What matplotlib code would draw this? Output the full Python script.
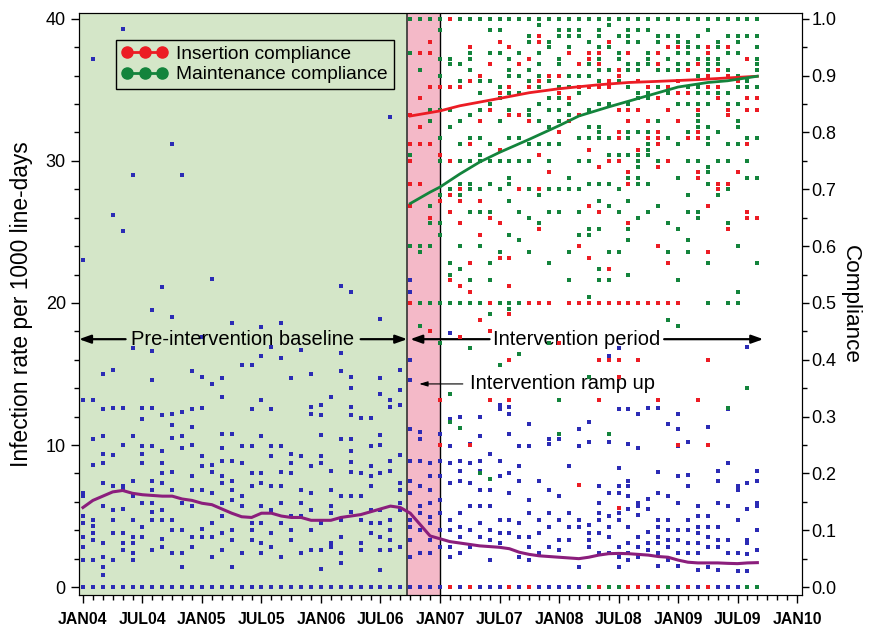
import matplotlib
matplotlib.use("Agg")
import matplotlib.pyplot as plt
from matplotlib.lines import Line2D
import numpy as np

plt.rcParams['font.family'] = ['Liberation Sans', 'DejaVu Sans']

# ---- data (months counted from JAN04 = 0) ----
tick_labels = ['JAN04', 'JUL04', 'JAN05', 'JUL05', 'JAN06', 'JUL06', 'JAN07',
               'JUL07', 'JAN08', 'JUL08', 'JAN09', 'JUL09', 'JAN10']

# infection rate per 1000 line-days, one list per month (m0 .. m68)
blue_rates = [
    [23.0, 13.2, 6.6, 6.4, 5.0, 4.5, 3.5, 2.8, 1.9, 0],
    [37.2, 13.2, 10.4, 8.6, 4.7, 4.3, 3.8, 3.3, 1.9, 0],
    [15.0, 12.5, 10.6, 9.4, 8.7, 7.3, 5.7, 3.1, 2.1, 1.4, 0.85, 0],
    [26.2, 15.3, 12.6, 9.3, 7.1, 5.4, 4.7, 3.8, 1.9, 0],
    [39.3, 25.1, 12.6, 10.0, 7.1, 6.8, 5.5, 3.8, 3.1, 2.6, 0],
    [29.0, 16.8, 10.6, 7.5, 6.4, 4.7, 3.5, 3.1, 2.4, 1.9, 0],
    [12.6, 11.8, 9.9, 9.4, 8.7, 5.9, 4.2, 3.5, 0],
    [19.5, 16.6, 14.6, 12.6, 9.9, 7.5, 6.8, 5.9, 5.3, 4.7, 2.6, 0],
    [21.1, 12.1, 9.6, 8.7, 8.0, 7.3, 5.4, 4.7, 3.4, 2.8, 0],
    [31.2, 19.0, 12.2, 11.4, 10.5, 8.1, 6.8, 4.7, 4.0, 2.4, 0],
    [29.0, 12.3, 10.6, 9.8, 5.9, 4.0, 2.4, 1.4, 0],
    [15.2, 12.5, 11.3, 10.0, 7.8, 6.8, 5.7, 3.5, 2.8, 0],
    [17.6, 14.8, 12.6, 9.2, 8.5, 6.8, 4.1, 3.5, 0],
    [21.7, 14.3, 8.6, 8.1, 6.6, 4.5, 3.5, 2.1, 0],
    [14.7, 13.4, 10.8, 9.8, 8.9, 7.8, 7.3, 5.9, 5.0, 3.8, 2.6, 0],
    [18.6, 10.8, 8.9, 7.5, 6.8, 6.1, 4.0, 3.3, 1.4, 0],
    [15.6, 9.9, 8.7, 6.4, 5.7, 2.4, 0],
    [15.6, 12.5, 9.9, 8.0, 7.1, 4.5, 4.0, 3.3, 0],
    [18.3, 16.3, 13.2, 10.6, 8.0, 7.3, 5.7, 4.5, 3.1, 2.4, 0],
    [16.9, 12.5, 9.9, 9.2, 7.1, 5.4, 3.8, 2.8, 0],
    [18.6, 16.1, 9.9, 8.1, 7.1, 5.9, 4.5, 2.1, 0],
    [14.7, 9.4, 8.7, 8.0, 5.0, 4.0, 3.3, 0],
    [16.7, 9.2, 6.8, 5.9, 5.0, 2.4, 0],
    [15.0, 12.7, 12.2, 8.5, 6.6, 5.4, 4.0, 2.6, 0],
    [12.8, 12.1, 10.7, 9.2, 8.7, 4.5, 2.6, 1.3, 0],
    [13.4, 8.2, 6.8, 5.7, 5.2, 3.1, 2.8, 0],
    [21.2, 16.5, 15.2, 10.4, 6.4, 4.7, 3.5, 2.4, 1.7, 0],
    [20.8, 14.8, 14.0, 12.7, 12.1, 10.4, 9.6, 8.8, 8.1, 6.4, 5.3, 0],
    [11.9, 8.0, 6.4, 4.7, 3.1, 2.6, 0],
    [11.9, 9.9, 8.5, 7.8, 7.1, 5.4, 4.5, 3.8, 0],
    [18.9, 14.7, 13.6, 10.7, 10.0, 8.0, 5.4, 4.5, 3.5, 2.6, 1.2, 0],
    [33.1, 13.2, 12.7, 8.9, 8.2, 4.7, 4.0, 3.3, 2.6, 0],
    [15.3, 13.9, 12.8, 9.3, 7.3, 6.8, 5.9, 5.4, 2.8, 0],
    [21.6, 20.8, 16.0, 14.6, 11.1, 8.9, 7.5, 6.6, 4.7, 4.2, 3.3, 2.1, 0],
    [10.9, 10.4, 8.9, 7.1, 5.7, 5.2, 4.0, 2.4, 0],
    [8.7, 7.8, 6.8, 5.9, 4.9, 4.5, 3.3, 2.4, 0],
    [13.2, 10.8, 8.9, 7.8, 6.1, 5.2, 4.0, 2.8, 0],
    [17.9, 11.8, 9.9, 8.7, 7.3, 4.7, 4.0, 2.8, 2.1, 0],
    [12.0, 8.9, 8.2, 7.5, 5.2, 4.2, 3.5, 2.4, 0],
    [10.1, 8.7, 7.3, 5.7, 4.0, 2.8, 0],
    [12.0, 10.6, 8.9, 8.2, 6.8, 5.7, 4.5, 3.5, 0],
    [9.4, 6.8, 5.7, 4.0, 3.3, 1.9, 0],
    [12.8, 12.5, 8.9, 7.8, 4.7, 3.8, 3.1, 0],
    [12.7, 12.2, 10.8, 8.0, 6.6, 4.7, 3.8, 0],
    [9.9, 8.5, 7.5, 4.5, 3.5, 2.1, 0],
    [11.5, 9.9, 6.1, 5.2, 3.5, 2.8, 1.9, 0],
    [7.5, 4.7, 3.8, 2.4, 0],
    [10.4, 10.1, 6.8, 5.2, 4.2, 2.8, 0],
    [10.4, 6.4, 4.7, 3.3, 2.6, 0],
    [8.5, 5.2, 4.2, 3.3, 0],
    [11.1, 9.9, 4.7, 4.2, 1.4, 0],
    [11.6, 10.2, 4.4, 3.8, 3.3, 2.8, 0],
    [7.1, 5.9, 5.2, 4.7, 3.8, 2.4, 0],
    [16.3, 10.2, 6.6, 5.0, 4.2, 3.5, 2.4, 0],
    [16.8, 12.5, 8.4, 7.1, 6.6, 5.2, 4.7, 2.8, 2.1, 1.4, 0],
    [12.5, 10.1, 7.5, 7.1, 6.4, 5.5, 4.2, 3.1, 2.4, 1.9, 0],
    [12.2, 9.8, 5.9, 5.7, 5.1, 3.5, 2.8, 2.1, 0],
    [12.6, 6.2, 5.5, 3.9, 3.1, 2.6, 0],
    [12.6, 8.1, 6.6, 4.7, 4.2, 3.5, 3.1, 2.4, 1.5, 0],
    [11.5, 6.4, 4.7, 4.0, 3.3, 2.8, 1.9, 0],
    [12.2, 11.1, 9.9, 7.8, 5.9, 4.0, 3.3, 2.4, 1.5, 0],
    [10.2, 7.9, 7.1, 4.7, 4.0, 3.1, 2.4, 0],
    [5.7, 5.0, 4.2, 3.8, 3.1, 2.4, 1.2, 0],
    [11.3, 10.0, 5.0, 4.2, 3.5, 2.8, 1.4, 0],
    [8.2, 7.5, 5.9, 4.2, 3.3, 2.8, 1.2, 0],
    [12.5, 8.7, 5.7, 3.3, 2.4, 0],
    [7.1, 6.8, 4.7, 2.4, 1.1, 0],
    [16.9, 7.3, 5.5, 3.3, 3.1, 2.3, 1.1, 0],
    [8.2, 7.5, 5.9, 5.7, 4.0, 2.6, 0],
]

# smoothed infection rate, m0 .. m68
rate_smooth = [5.6, 6.1, 6.4, 6.7, 6.8, 6.6, 6.5, 6.45, 6.4, 6.4, 6.2, 6.1, 5.9,
               5.8, 5.5, 5.2, 4.95, 4.9, 5.2, 5.2, 5.0, 4.9, 4.9, 4.7, 4.7, 4.7,
               4.9, 5.0, 5.1, 5.3, 5.5, 5.7, 5.6, 5.2, 4.4, 3.6, 3.4, 3.2, 3.1,
               3.0, 2.9, 2.85, 2.8, 2.7, 2.45, 2.3, 2.2, 2.15, 2.1, 2.05, 2.0,
               2.1, 2.25, 2.35, 2.37, 2.35, 2.3, 2.25, 2.15, 2.1, 1.9, 1.75, 1.7,
               1.7, 1.7, 1.67, 1.65, 1.7, 1.72]

# compliance per month, m33 .. m68
comp_start = 33
maint_comp = [
    [1.0, 0.94, 0.76, 0.60, 0.50],
    [1.0, 0.91, 0.78, 0.60, 0.59, 0.50, 0.46],
    [1.0, 0.84, 0.82, 0.67, 0.64, 0.60, 0.50],
    [1.0, 0.98, 0.93, 0.90, 0.84, 0.79, 0.75, 0.69, 0.64, 0.62, 0.50, 0.43],
    [1.0, 0.93, 0.92, 0.84, 0.81, 0.75, 0.70, 0.69, 0.57, 0.55, 0.50, 0.34, 0.29],
    [1.0, 0.92, 0.89, 0.82, 0.78, 0.75, 0.71, 0.69, 0.60, 0.56, 0.50, 0.28],
    [1.0, 0.94, 0.93, 0.91, 0.83, 0.79, 0.75, 0.71, 0.70, 0.66, 0.54, 0.50, 0.42, 0.25],
    [1.0, 0.89, 0.87, 0.84, 0.79, 0.76, 0.75, 0.70, 0.66, 0.60, 0.50, 0.20],
    [1.0, 0.98, 0.94, 0.89, 0.85, 0.84, 0.78, 0.75, 0.71, 0.66, 0.57, 0.54, 0.50, 0.48, 0.19],
    [1.0, 0.98, 0.94, 0.88, 0.86, 0.82, 0.75, 0.70, 0.59, 0.50, 0.39],
    [1.0, 0.95, 0.93, 0.91, 0.90, 0.87, 0.84, 0.79, 0.75, 0.72, 0.71, 0.68, 0.62, 0.50, 0.49],
    [1.0, 0.94, 0.90, 0.87, 0.83, 0.79, 0.75, 0.70, 0.66, 0.61, 0.50, 0.41],
    [1.0, 0.97, 0.96, 0.91, 0.89, 0.88, 0.84, 0.83, 0.78, 0.75, 0.70, 0.65, 0.59, 0.50],
    [1.0, 0.99, 0.97, 0.94, 0.92, 0.90, 0.88, 0.85, 0.82, 0.78, 0.69, 0.64],
    [1.0, 0.96, 0.95, 0.89, 0.86, 0.84, 0.81, 0.78, 0.75, 0.70, 0.66, 0.57, 0.50, 0.43],
    [1.0, 0.98, 0.97, 0.93, 0.92, 0.88, 0.86, 0.84, 0.82, 0.78, 0.70, 0.66, 0.33, 0.27],
    [1.0, 0.98, 0.97, 0.95, 0.90, 0.88, 0.85, 0.83, 0.72, 0.70, 0.59, 0.54],
    [1.0, 0.98, 0.97, 0.92, 0.90, 0.87, 0.83, 0.79, 0.75, 0.70, 0.66, 0.62],
    [1.0, 0.96, 0.94, 0.92, 0.90, 0.88, 0.84, 0.81, 0.79, 0.75, 0.71, 0.63, 0.62, 0.51, 0.37, 0.0],
    [1.0, 0.98, 0.97, 0.95, 0.93, 0.91, 0.89, 0.85, 0.81, 0.80, 0.79, 0.71, 0.68, 0.63, 0.56, 0.54, 0.50],
    [1.0, 0.99, 0.95, 0.91, 0.88, 0.85, 0.79, 0.76, 0.71, 0.67, 0.59, 0.54, 0.27, 0.0],
    [1.0, 0.97, 0.94, 0.93, 0.89, 0.79, 0.76, 0.75, 0.70, 0.66, 0.59, 0.50, 0.0],
    [1.0, 0.98, 0.97, 0.96, 0.94, 0.92, 0.91, 0.88, 0.85, 0.80, 0.79, 0.76, 0.73, 0.72,
     0.68, 0.63, 0.61, 0.55, 0.50],
    [1.0, 0.98, 0.96, 0.92, 0.91, 0.89, 0.87, 0.86, 0.80, 0.77, 0.76, 0.75, 0.74, 0.72,
     0.71, 0.65, 0.50],
    [1.0, 0.98, 0.94, 0.93, 0.92, 0.88, 0.87, 0.86, 0.80, 0.78, 0.77, 0.76, 0.71, 0.66, 0.50],
    [1.0, 0.97, 0.96, 0.94, 0.92, 0.91, 0.88, 0.82, 0.75, 0.67],
    [1.0, 0.97, 0.93, 0.91, 0.88, 0.87, 0.79, 0.64, 0.59, 0.47, 0.0],
    [1.0, 0.97, 0.96, 0.94, 0.92, 0.91, 0.89, 0.87, 0.85, 0.78, 0.72, 0.63, 0.54, 0.46],
    [1.0, 0.96, 0.95, 0.94, 0.92, 0.91, 0.88, 0.87, 0.85, 0.80, 0.79, 0.75, 0.69, 0.66, 0.61, 0.59],
    [1.0, 0.97, 0.95, 0.93, 0.92, 0.90, 0.88, 0.87, 0.85, 0.84, 0.83, 0.82, 0.81, 0.79,
     0.75, 0.66, 0.65],
    [1.0, 0.98, 0.94, 0.93, 0.92, 0.91, 0.87, 0.85, 0.81, 0.79, 0.78, 0.74, 0.73, 0.71, 0.57, 0.50],
    [1.0, 0.96, 0.95, 0.93, 0.92, 0.91, 0.87, 0.80, 0.75, 0.70, 0.69],
    [1.0, 0.97, 0.95, 0.94, 0.91, 0.87, 0.85, 0.78, 0.75, 0.71, 0.70, 0.64, 0.50, 0.315],
    [1.0, 0.97, 0.96, 0.94, 0.90, 0.88, 0.85, 0.82, 0.81, 0.78, 0.60, 0.52, 0.50],
    [1.0, 0.97, 0.93, 0.89, 0.88, 0.79, 0.75, 0.72, 0.35, 0.0],
    [1.0, 0.97, 0.95, 0.93, 0.92, 0.91, 0.88, 0.79, 0.72, 0.57, 0.0],
]
insert_comp = [
    [0.83, 0.78, 0.75, 0.71, 0.67, 0.50],
    [0.94, 0.86, 0.81, 0.78, 0.71],
    [0.96, 0.94, 0.88, 0.78, 0.65, 0.45],
    [0.88, 0.76, 0.68, 0.33, 0.25],
    [1.0, 0.88, 0.75, 0.69, 0.66, 0.54, 0.0],
    [0.88, 0.70, 0.68, 0.64, 0.53, 0.44],
    [0.95, 0.89, 0.78, 0.57, 0.52, 0.25, 0.0],
    [0.90, 0.82, 0.68, 0.62, 0.47],
    [0.92, 0.84, 0.65, 0.50, 0.45, 0.33],
    [0.96, 0.87, 0.77, 0.64, 0.58],
    [0.95, 0.88, 0.83, 0.58, 0.53, 0.48, 0.40, 0.33, 0.0],
    [0.92, 0.83, 0.70],
    [0.93, 0.88, 0.82, 0.50, 0.0],
    [0.97, 0.96, 0.89, 0.76, 0.70, 0.63, 0.50],
    [0.90, 0.73, 0.50],
    [0.90, 0.87, 0.80, 0.43],
    [0.94, 0.86, 0.82, 0.50],
    [0.92, 0.88, 0.83, 0.60, 0.50, 0.18],
    [0.94, 0.93, 0.88, 0.77, 0.67, 0.58, 0.50],
    [0.94, 0.92, 0.88, 0.74, 0.66, 0.50, 0.40, 0.33, 0.0],
    [0.96, 0.89, 0.88, 0.75, 0.56, 0.50, 0.40],
    [0.91, 0.90, 0.84, 0.80, 0.79, 0.75, 0.50, 0.40, 0.37, 0.14],
    [0.94, 0.84, 0.82, 0.73, 0.71, 0.64, 0.50, 0.0],
    [0.89, 0.84, 0.77, 0.50, 0.40, 0.0],
    [0.88, 0.82, 0.79, 0.50],
    [0.94, 0.92, 0.86, 0.80, 0.79, 0.78, 0.74, 0.60, 0.50, 0.33, 0.0],
    [0.95, 0.88, 0.84, 0.75, 0.57, 0.50],
    [0.95, 0.89, 0.87, 0.82, 0.50, 0.25],
    [0.91, 0.87, 0.79, 0.0],
    [0.92, 0.84, 0.80, 0.79, 0.73, 0.72, 0.33],
    [0.95, 0.94, 0.90, 0.88, 0.67, 0.59, 0.40, 0.25, 0.0],
    [0.91, 0.88, 0.86, 0.71, 0.70],
    [0.95, 0.90, 0.84, 0.83, 0.71, 0.63],
    [0.89, 0.73],
    [0.93, 0.86, 0.84, 0.78, 0.66, 0.65],
    [0.86, 0.84, 0.65],
]

# fitted compliance curves
insert_fit_x = [33, 36, 38, 42, 45, 48, 52, 55, 58, 62, 65, 68]
insert_fit_y = [0.829, 0.838, 0.847, 0.860, 0.870, 0.877, 0.884, 0.888, 0.890, 0.893, 0.896, 0.899]
maint_fit_x = [33, 35, 36, 38, 40, 42, 45, 48, 50, 53, 55, 58, 60, 63, 65, 68]
maint_fit_y = [0.675, 0.695, 0.704, 0.727, 0.748, 0.765, 0.788, 0.812, 0.829, 0.845,
               0.855, 0.870, 0.880, 0.888, 0.891, 0.899]

# ---- colours ----
BG_GREEN = '#d4e6c8'
PINK = '#f4b9c8'
BLUE = '#2b2bb5'
RED = '#ec1c24'
GREEN = '#13843c'
PURPLE = '#8b1e7c'

fig = plt.figure(figsize=(8.69, 6.27), dpi=100)
ax = fig.add_axes([0.0909, 0.051, 0.832, 0.928])
ax2 = ax.twinx()

XMIN, XMAX = -0.4, 72.5
YMIN, YMAX = -0.56, 40.4
RAMP_L, RAMP_R = 32.7, 36.0

ax.axvspan(XMIN, RAMP_L, color=BG_GREEN, zorder=0, lw=0)
ax.axvspan(RAMP_L, RAMP_R, color=PINK, zorder=0, lw=0)
ax.axvline(RAMP_L, color='#333333', lw=1.2, zorder=1)
ax.axvline(RAMP_R, color='black', lw=1.0, zorder=1)

# infection rates
bx, by = [], []
for m, vals in enumerate(blue_rates):
    bx += [m] * len(vals)
    by += vals
ax.scatter(bx, by, s=8, marker='s', color=BLUE, lw=0, zorder=2)
ax.plot(range(len(rate_smooth)), rate_smooth, color=PURPLE, lw=2.2, zorder=3)

# compliance
gx, gy, rx, ry = [], [], [], []
for i, vals in enumerate(maint_comp):
    gx += [comp_start + i] * len(vals)
    gy += vals
for i, vals in enumerate(insert_comp):
    rx += [comp_start + i] * len(vals)
    ry += vals
ax2.scatter(gx, gy, s=8, marker='s', color=GREEN, lw=0, zorder=2)
ax2.scatter(rx, ry, s=8, marker='s', color=RED, lw=0, zorder=2)
ax2.plot(insert_fit_x, insert_fit_y, color=RED, lw=2, zorder=3)
ax2.plot(maint_fit_x, maint_fit_y, color=GREEN, lw=2, zorder=3)

# axes
ax.set_xlim(XMIN, XMAX)
ax.set_ylim(YMIN, YMAX)
ax2.set_ylim(YMIN / 40, YMAX / 40)
ax.set_xticks(np.arange(0, 73, 6))
ax.set_xticklabels(tick_labels, fontweight='bold', fontsize=11.4)
ax.set_xticks(np.arange(0, 73, 1), minor=True)
ax.set_yticks([0, 10, 20, 30, 40])
ax.set_yticks(np.arange(0, 41, 2), minor=True)
ax2.set_yticks(np.round(np.arange(0, 1.01, 0.1), 1))
ax2.set_yticks(np.arange(0, 1.01, 0.05), minor=True)
ax2.set_yticklabels([f"{v:.1f}" for v in np.arange(0, 1.01, 0.1)])
for a in (ax, ax2):
    a.tick_params(which='major', direction='out', length=6, width=1, labelsize=13)
    a.tick_params(which='minor', direction='out', length=3.5, width=1)
ax2.tick_params(axis='y', which='major', length=5, pad=2)
ax.tick_params(axis='x', labelsize=11.4, pad=6)
ax.set_ylabel('Infection rate per 1000 line-days', fontsize=16.4, labelpad=9)
ax2.set_ylabel('Compliance', fontsize=16.2, rotation=270, labelpad=17)

# period annotations
arrow_kw = dict(arrowstyle='-|>,head_length=0.7,head_width=0.25', color='black', lw=1.6,
                shrinkA=0, shrinkB=0)
ya = 17.45
ax.text(16.1, ya, 'Pre-intervention baseline', fontsize=14.5, ha='center', va='center', zorder=5)
ax.annotate('', xy=(XMIN, ya), xytext=(4.3, ya), arrowprops=arrow_kw, zorder=5)
ax.annotate('', xy=(RAMP_L, ya), xytext=(28.0, ya), arrowprops=arrow_kw, zorder=5)
ax.text(49.8, ya, 'Intervention period', fontsize=14.5, ha='center', va='center', zorder=5)
ax.annotate('', xy=(RAMP_L + 0.3, ya), xytext=(41.0, ya), arrowprops=arrow_kw, zorder=5)
ax.annotate('', xy=(68.6, ya), xytext=(58.6, ya), arrowprops=arrow_kw, zorder=5)
ax.text(39.0, 14.3, 'Intervention ramp up', fontsize=14.5, ha='left', va='center', zorder=5)
ax.annotate('', xy=(33.9, 14.3), xytext=(38.3, 14.3),
            arrowprops=dict(arrowstyle='-|>,head_length=0.5,head_width=0.15', color='black',
                            lw=0.8, shrinkA=0, shrinkB=0), zorder=5)

# legend
handles = [Line2D([], [], color=RED, lw=2, marker='o', markersize=8),
           Line2D([], [], color=GREEN, lw=2, marker='o', markersize=8)]
leg = ax2.legend(handles, ['Insertion compliance', 'Maintenance compliance'],
                 loc='upper left', bbox_to_anchor=(0.051, 0.954), borderaxespad=0,
                 numpoints=3, handlelength=2.4, fontsize=13.8, frameon=True, fancybox=False,
                 facecolor=BG_GREEN, edgecolor='black', framealpha=1,
                 handletextpad=0.45, borderpad=0.3, labelspacing=0.15)
leg.get_frame().set_linewidth(1.0)

fig.savefig('out.png', dpi=100)
